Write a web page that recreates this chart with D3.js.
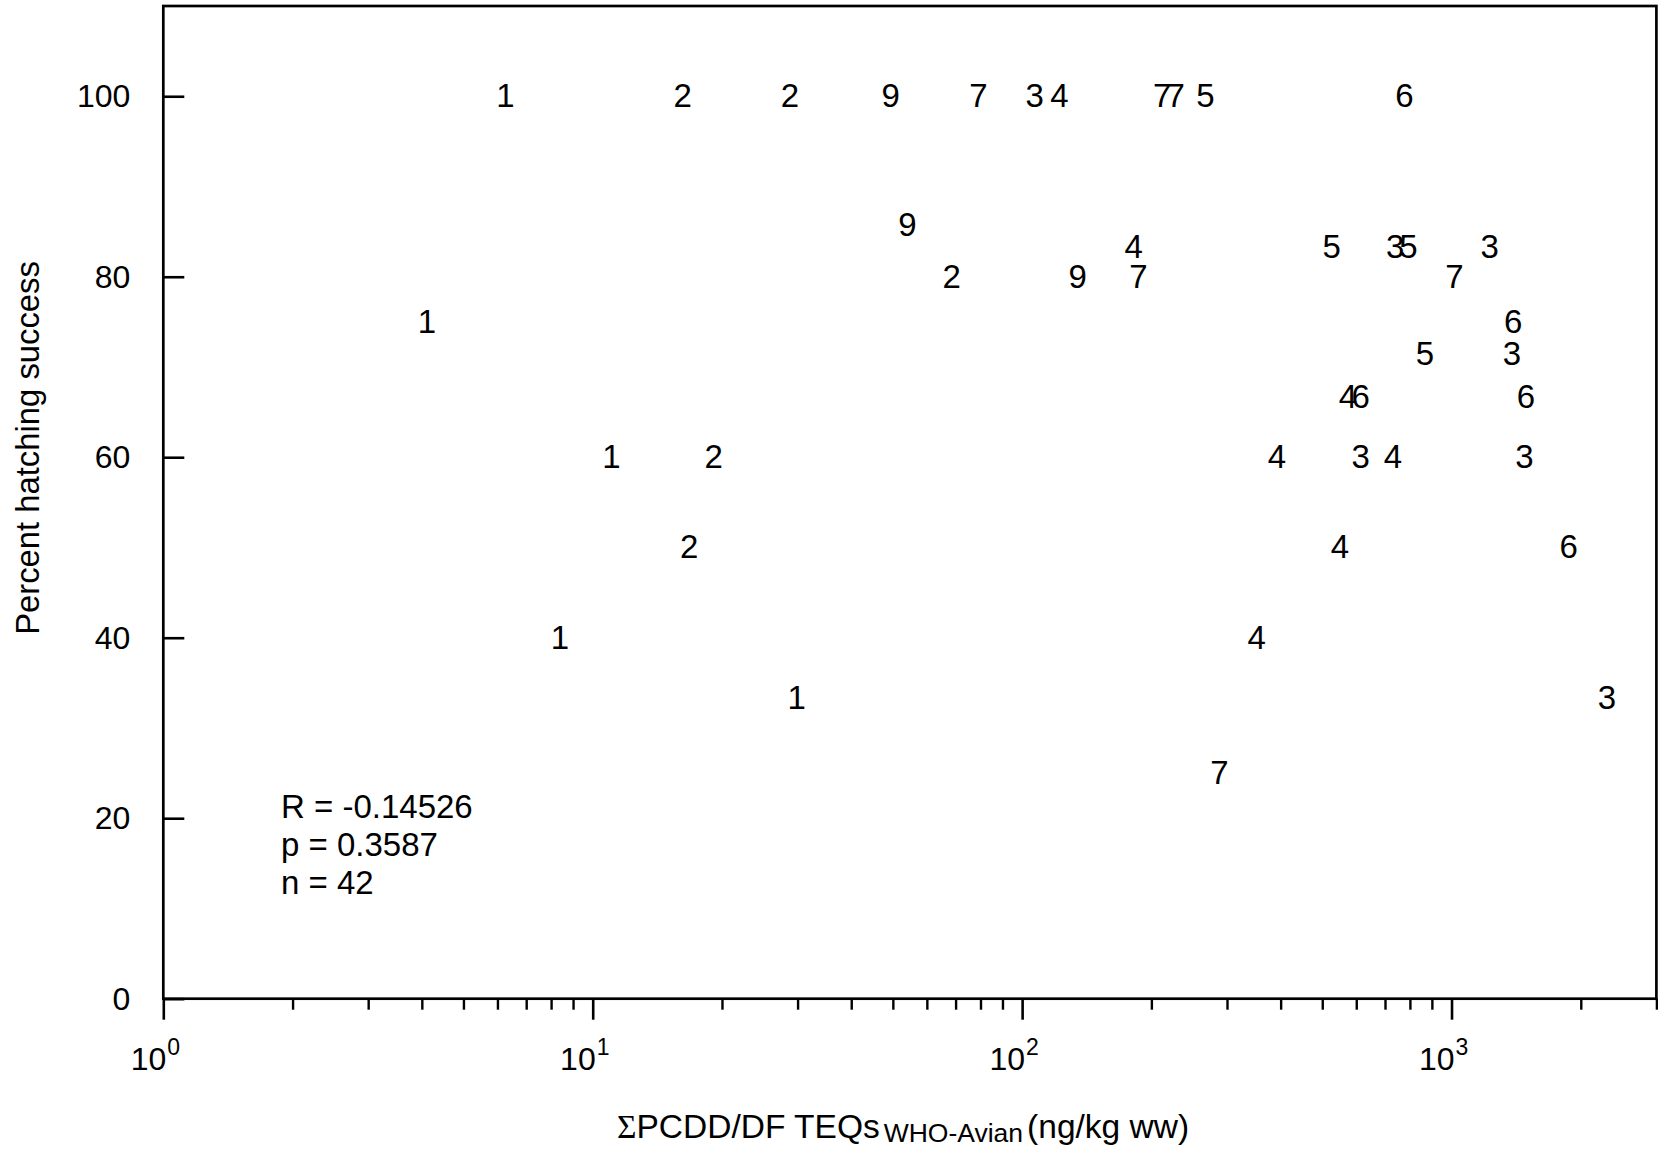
<!DOCTYPE html>
<html>
<head>
<meta charset="utf-8">
<script src="https://cdn.jsdelivr.net/npm/d3@7"></script>
<style>
  html, body { margin: 0; padding: 0; background: #fff; }
  svg { display: block; }
  text { font-family: "Liberation Sans", Arial, Helvetica, sans-serif; fill: #000; }
</style>
</head>
<body>
<svg id="chart" width="1658" height="1152"></svg>
<script>
// Colony / site code plotted at each egg sample
const siteCodes = [
  "1","2","2","9","7","3","4","7","7","5","6",
  "9","4","5","3","5","3",
  "2","9","7","7",
  "6","1",
  "5","3",
  "4","6","6",
  "1","2","4","3","4","3",
  "2","4","6",
  "1","4",
  "1","3",
  "7"
];
// ΣPCDD/DF TEQs (WHO-Avian), ng/kg ww
const teqValues = [
  6.26, 16.2, 28.8, 49.4, 79.1, 106.9, 122.2, 211.9, 227.8, 267.1, 777,
  54.1, 181.9, 525.8, 739, 794, 1227,
  68.5, 134.8, 186.6, 1016,
  1392, 4.11,
  866.6, 1383,
  574, 614, 1491,
  11.06, 19.13, 392, 614, 730.5, 1478,
  16.77, 549.5, 1874,
  8.39, 351.6,
  29.85, 2302,
  288
];
// Percent hatching success
const hatchValues = [
  100, 100, 100, 100, 100, 100, 100, 100, 100, 100, 100,
  85.7, 83.3, 83.3, 83.3, 83.3, 83.3,
  80, 80, 80, 80,
  75, 75,
  71.4, 71.4,
  66.7, 66.7, 66.7,
  60, 60, 60, 60, 60, 60,
  50, 50, 50,
  40, 40,
  33.3, 33.3,
  25
];
const yTicks = [0, 20, 40, 60, 80, 100];
const xMajorTicks = [1, 10, 100, 1000];
const xExponents = ["0", "1", "2", "3"];
const statLines = ["R = -0.14526", "p = 0.3587", "n = 42"];

const svg = d3.select("#chart");
const plotLeft = 163.3, plotRight = 1656.4, plotTop = 6, plotBottom = 998.7;

const x = d3.scaleLog().domain([1, 3000]).range([plotLeft, plotRight]);
const y = d3.scaleLinear().domain([0, 110]).range([plotBottom, plotTop]);

const xMinorTicks = [];
[1, 10, 100, 1000].forEach(dec => {
  for (let m = 2; m <= 9; m++) {
    const v = m * dec;
    if (v <= 3000) xMinorTicks.push(v);
  }
});

// minor ticks along the bottom axis
svg.append("g")
  .attr("transform", `translate(0,${plotBottom})`)
  .call(d3.axisBottom(x).tickValues(xMinorTicks).tickSize(11).tickFormat(""))
  .call(g => g.select(".domain").remove())
  .call(g => g.selectAll("line").attr("stroke", "#000").attr("stroke-width", 2.4));

// major ticks along the bottom axis
svg.append("g")
  .attr("transform", `translate(0,${plotBottom})`)
  .call(d3.axisBottom(x).tickValues(xMajorTicks).tickSize(21).tickFormat(""))
  .call(g => g.select(".domain").remove())
  .call(g => g.selectAll("line").attr("stroke", "#000").attr("stroke-width", 2.6));

// decade labels with superscript exponents
const xl = svg.append("g");
xMajorTicks.forEach((v, i) => {
  xl.append("text")
    .attr("x", x(v) + 3)
    .attr("y", 1070)
    .attr("text-anchor", "end")
    .attr("font-size", 32)
    .text("10");
  xl.append("text")
    .attr("x", x(v) + 4)
    .attr("y", 1055)
    .attr("text-anchor", "start")
    .attr("font-size", 23)
    .text(xExponents[i]);
});

// left axis: ticks point into the plot
svg.append("g")
  .attr("transform", `translate(${plotLeft},0)`)
  .call(d3.axisLeft(y).tickValues(yTicks).tickSize(-21).tickPadding(33).tickFormat(d3.format("d")))
  .call(g => g.select(".domain").remove())
  .call(g => g.selectAll("line").attr("stroke", "#000").attr("stroke-width", 2.6))
  .call(g => g.selectAll("text")
    .attr("font-size", 32)
    .attr("font-family", "Liberation Sans, Arial, sans-serif")
    .attr("fill", "#000")
    .attr("dy", "0.33em"));

// plot frame
svg.append("rect")
  .attr("x", plotLeft)
  .attr("y", plotTop)
  .attr("width", plotRight - plotLeft)
  .attr("height", plotBottom - plotTop)
  .attr("fill", "none")
  .attr("stroke", "#000")
  .attr("stroke-width", 2.7);

// data points drawn as site-code digits
svg.append("g")
  .selectAll("text")
  .data(siteCodes.map((s, i) => ({ s, tv: teqValues[i], hv: hatchValues[i] })))
  .join("text")
  .attr("x", d => x(d.tv))
  .attr("y", d => y(d.hv))
  .attr("dy", "0.33em")
  .attr("text-anchor", "middle")
  .attr("font-size", 33)
  .text(d => d.s);

// correlation statistics
svg.append("g")
  .selectAll("text")
  .data(statLines)
  .join("text")
  .attr("x", 281)
  .attr("y", (d, i) => 818 + i * 38)
  .attr("font-size", 33)
  .text(d => d);

// axis titles
const xt = svg.append("text")
  .attr("x", 617)
  .attr("y", 1138)
  .attr("font-size", 33.5);
xt.append("tspan").attr("font-family", "Liberation Serif, Times New Roman, serif").text("Σ");
xt.append("tspan").text("PCDD/DF TEQs");
xt.append("tspan").attr("font-size", 26.5).attr("dy", 4).attr("dx", 4).text("WHO-Avian");
xt.append("tspan").attr("dy", -4).attr("dx", 4).text("(ng/kg ww)");

svg.append("text")
  .attr("transform", "translate(38.5,448) rotate(-90)")
  .attr("text-anchor", "middle")
  .attr("font-size", 32.8)
  .text("Percent hatching success");
</script>
</body>
</html>
